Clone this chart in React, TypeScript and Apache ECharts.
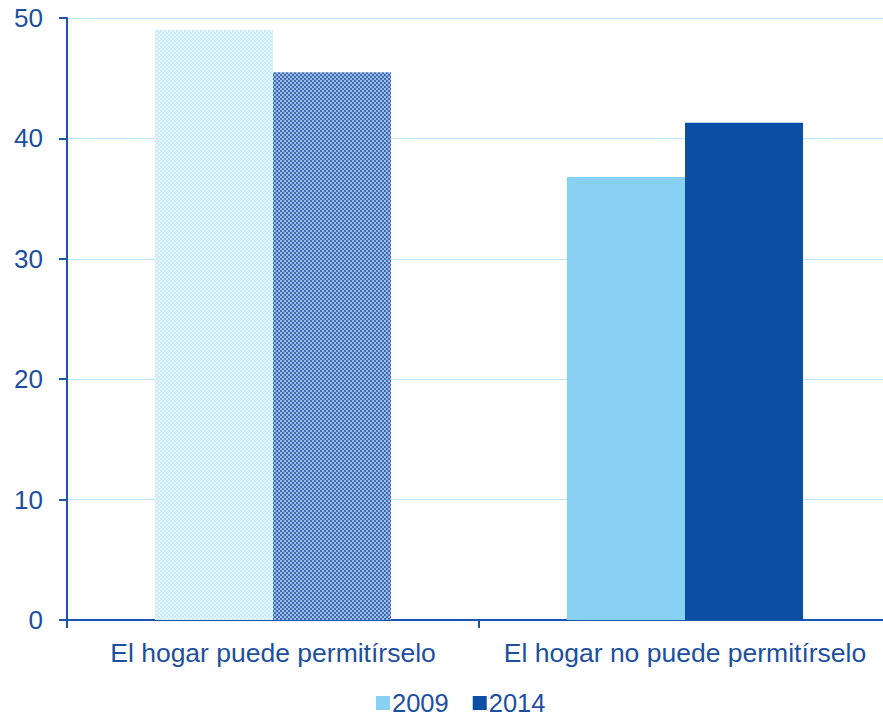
import React, { useEffect, useRef } from "react";
import * as echarts from "echarts";

const categories = ["El hogar puede permitírselo", "El hogar no puede permitírselo"];
const values2009 = [49.0, 36.8];
const values2014 = [45.5, 41.3];
const yTicks = [0, 10, 20, 30, 40, 50];

const C2009 = "#89d1f2";
const C2014 = "#0a4fa3";
const TEXT = "#1d4f9f";
const AXIS = "#1a55b0";
const FONT = "Liberation Sans, Arial, sans-serif";

function checker(a: string, b: string): string {
  const c = document.createElement("canvas");
  c.width = 4;
  c.height = 4;
  const ctx = c.getContext("2d")!;
  ctx.fillStyle = a;
  ctx.fillRect(0, 0, 4, 4);
  ctx.fillStyle = b;
  ctx.fillRect(0, 0, 2, 2);
  ctx.fillRect(2, 2, 2, 2);
  return c.toDataURL();
}

export default function App() {
  const ref = useRef<HTMLDivElement>(null);
  useEffect(() => {
    const chart = echarts.init(ref.current!, undefined, { renderer: "svg" });
    const pat1 = { image: checker("#c9ebfb", "#e4f5fd"), repeat: "repeat" } as any;
    const pat2 = { image: checker("#3c6db8", "#9fb9e0"), repeat: "repeat" } as any;
    chart.setOption({
      animation: false,
      grid: { left: 67, top: 18, width: 824, height: 602, containLabel: false },
      legend: {
        data: ["2009", "2014"],
        left: 376,
        top: 690,
        padding: 0,
        itemWidth: 14,
        itemHeight: 14,
        itemGap: 24,
        icon: "rect",
        textStyle: { color: TEXT, fontSize: 25.5, lineHeight: 20, fontFamily: FONT, padding: [0, 0, 0, -3] },
      },
      xAxis: {
        type: "category",
        data: categories,
        axisLine: { lineStyle: { color: AXIS, width: 2 } },
        axisTick: { show: true, length: 8, lineStyle: { color: AXIS, width: 2 } },
        axisLabel: { color: TEXT, fontSize: 26.5, margin: 19, interval: 0, fontFamily: FONT },
      },
      yAxis: {
        type: "value",
        min: 0,
        max: 50,
        interval: 10,
        axisLine: { show: true, lineStyle: { color: AXIS, width: 2 } },
        axisTick: { show: true, length: 8, lineStyle: { color: AXIS, width: 2 } },
        axisLabel: {
          color: TEXT,
          fontSize: 26,
          margin: 24,
          fontFamily: FONT,
          formatter: (v: number) => (yTicks.includes(v) ? String(v) : ""),
        },
        splitLine: { lineStyle: { color: "#bfe6f7", width: 1 } },
      },
      series: [
        {
          name: "2009",
          type: "bar",
          barGap: "0%",
          barCategoryGap: "42.7%",
          itemStyle: { color: C2009 },
          data: values2009.map((v, i) => (i === 0 ? { value: v, itemStyle: { color: pat1 } } : v)),
        },
        {
          name: "2014",
          type: "bar",
          itemStyle: { color: C2014 },
          data: values2014.map((v, i) => (i === 0 ? { value: v, itemStyle: { color: pat2 } } : v)),
        },
      ],
    });
    return () => chart.dispose();
  }, []);
  return (
    <div style={{ position: "absolute", left: 0, top: 0, width: 883, height: 715, overflow: "hidden" }}>
      <div ref={ref} style={{ width: 895, height: 715 }} />
    </div>
  );
}
